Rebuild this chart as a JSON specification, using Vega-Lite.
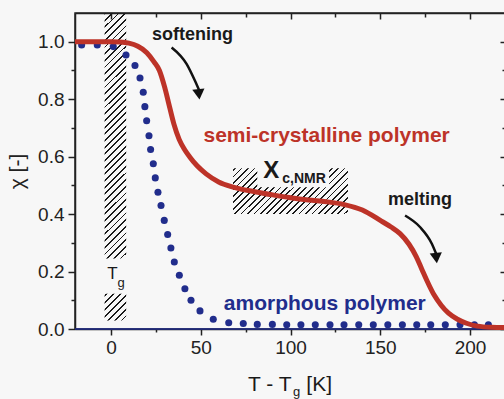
{
"$schema":"https://vega.github.io/schema/vega-lite/v6.json",
"width":431,"height":316,"autosize":"none",
"padding":{"left":75,"top":13,"right":0,"bottom":70},
"background":"#f7f7f7",
"config":{"font":"Liberation Sans","view":{"stroke":"#222","strokeWidth":1.5}},
"resolve":{"axis":{"x":"independent","y":"independent"}},
"layer":[
{"data":{"values":[{"x":-3.5,"x2":8.5,"y":0.03,"y2":0.123}]},
 "mark":{"type":"rect","strokeWidth":0,"fill":{"gradient":"linear","x1":0,"y1":0,"x2":0.8797,"y2":1.0965,"stops":[
{"offset":0.03,"color":"rgba(0,0,0,0)"},{"offset":0.03,"color":"#1a1a1a"},{"offset":0.067,"color":"#1a1a1a"},{"offset":0.067,"color":"rgba(0,0,0,0)"},
{"offset":0.173,"color":"rgba(0,0,0,0)"},{"offset":0.173,"color":"#1a1a1a"},{"offset":0.21,"color":"#1a1a1a"},{"offset":0.21,"color":"rgba(0,0,0,0)"},
{"offset":0.316,"color":"rgba(0,0,0,0)"},{"offset":0.316,"color":"#1a1a1a"},{"offset":0.353,"color":"#1a1a1a"},{"offset":0.353,"color":"rgba(0,0,0,0)"},
{"offset":0.459,"color":"rgba(0,0,0,0)"},{"offset":0.459,"color":"#1a1a1a"},{"offset":0.496,"color":"#1a1a1a"},{"offset":0.496,"color":"rgba(0,0,0,0)"},
{"offset":0.602,"color":"rgba(0,0,0,0)"},{"offset":0.602,"color":"#1a1a1a"},{"offset":0.639,"color":"#1a1a1a"},{"offset":0.639,"color":"rgba(0,0,0,0)"},
{"offset":0.745,"color":"rgba(0,0,0,0)"},{"offset":0.745,"color":"#1a1a1a"},{"offset":0.782,"color":"#1a1a1a"},{"offset":0.782,"color":"rgba(0,0,0,0)"},
{"offset":0.888,"color":"rgba(0,0,0,0)"},{"offset":0.888,"color":"#1a1a1a"},{"offset":0.925,"color":"#1a1a1a"},{"offset":0.925,"color":"rgba(0,0,0,0)"}
]}},
 "encoding":{"x":{"field":"x","type":"quantitative","scale":{"domain":[-20,220],"nice":false,"zero":false},"axis":null},"x2":{"field":"x2"},
  "y":{"field":"y","type":"quantitative","scale":{"domain":[0,1.1],"nice":false,"zero":false},"axis":null},"y2":{"field":"y2"}}},
{"data":{"values":[{"x":-3.5,"x2":8.5,"y":0.245,"y2":1.1}]},
 "mark":{"type":"rect","strokeWidth":0,"fill":{"gradient":"linear","x1":0,"y1":0,"x2":0.0943,"y2":1.0792,"stops":[
{"offset":0,"color":"#1a1a1a"},{"offset":0.007,"color":"#1a1a1a"},{"offset":0.007,"color":"rgba(0,0,0,0)"},
{"offset":0.025,"color":"rgba(0,0,0,0)"},{"offset":0.025,"color":"#1a1a1a"},{"offset":0.032,"color":"#1a1a1a"},{"offset":0.032,"color":"rgba(0,0,0,0)"},
{"offset":0.05,"color":"rgba(0,0,0,0)"},{"offset":0.05,"color":"#1a1a1a"},{"offset":0.057,"color":"#1a1a1a"},{"offset":0.057,"color":"rgba(0,0,0,0)"},
{"offset":0.075,"color":"rgba(0,0,0,0)"},{"offset":0.075,"color":"#1a1a1a"},{"offset":0.082,"color":"#1a1a1a"},{"offset":0.082,"color":"rgba(0,0,0,0)"},
{"offset":0.1,"color":"rgba(0,0,0,0)"},{"offset":0.1,"color":"#1a1a1a"},{"offset":0.107,"color":"#1a1a1a"},{"offset":0.107,"color":"rgba(0,0,0,0)"},
{"offset":0.125,"color":"rgba(0,0,0,0)"},{"offset":0.125,"color":"#1a1a1a"},{"offset":0.132,"color":"#1a1a1a"},{"offset":0.132,"color":"rgba(0,0,0,0)"},
{"offset":0.15,"color":"rgba(0,0,0,0)"},{"offset":0.15,"color":"#1a1a1a"},{"offset":0.157,"color":"#1a1a1a"},{"offset":0.157,"color":"rgba(0,0,0,0)"},
{"offset":0.175,"color":"rgba(0,0,0,0)"},{"offset":0.175,"color":"#1a1a1a"},{"offset":0.182,"color":"#1a1a1a"},{"offset":0.182,"color":"rgba(0,0,0,0)"},
{"offset":0.2,"color":"rgba(0,0,0,0)"},{"offset":0.2,"color":"#1a1a1a"},{"offset":0.207,"color":"#1a1a1a"},{"offset":0.207,"color":"rgba(0,0,0,0)"},
{"offset":0.225,"color":"rgba(0,0,0,0)"},{"offset":0.225,"color":"#1a1a1a"},{"offset":0.232,"color":"#1a1a1a"},{"offset":0.232,"color":"rgba(0,0,0,0)"},
{"offset":0.25,"color":"rgba(0,0,0,0)"},{"offset":0.25,"color":"#1a1a1a"},{"offset":0.257,"color":"#1a1a1a"},{"offset":0.257,"color":"rgba(0,0,0,0)"},
{"offset":0.275,"color":"rgba(0,0,0,0)"},{"offset":0.275,"color":"#1a1a1a"},{"offset":0.282,"color":"#1a1a1a"},{"offset":0.282,"color":"rgba(0,0,0,0)"},
{"offset":0.3,"color":"rgba(0,0,0,0)"},{"offset":0.3,"color":"#1a1a1a"},{"offset":0.307,"color":"#1a1a1a"},{"offset":0.307,"color":"rgba(0,0,0,0)"},
{"offset":0.325,"color":"rgba(0,0,0,0)"},{"offset":0.325,"color":"#1a1a1a"},{"offset":0.332,"color":"#1a1a1a"},{"offset":0.332,"color":"rgba(0,0,0,0)"},
{"offset":0.35,"color":"rgba(0,0,0,0)"},{"offset":0.35,"color":"#1a1a1a"},{"offset":0.357,"color":"#1a1a1a"},{"offset":0.357,"color":"rgba(0,0,0,0)"},
{"offset":0.375,"color":"rgba(0,0,0,0)"},{"offset":0.375,"color":"#1a1a1a"},{"offset":0.382,"color":"#1a1a1a"},{"offset":0.382,"color":"rgba(0,0,0,0)"},
{"offset":0.4,"color":"rgba(0,0,0,0)"},{"offset":0.4,"color":"#1a1a1a"},{"offset":0.407,"color":"#1a1a1a"},{"offset":0.407,"color":"rgba(0,0,0,0)"},
{"offset":0.425,"color":"rgba(0,0,0,0)"},{"offset":0.425,"color":"#1a1a1a"},{"offset":0.432,"color":"#1a1a1a"},{"offset":0.432,"color":"rgba(0,0,0,0)"},
{"offset":0.45,"color":"rgba(0,0,0,0)"},{"offset":0.45,"color":"#1a1a1a"},{"offset":0.457,"color":"#1a1a1a"},{"offset":0.457,"color":"rgba(0,0,0,0)"},
{"offset":0.475,"color":"rgba(0,0,0,0)"},{"offset":0.475,"color":"#1a1a1a"},{"offset":0.482,"color":"#1a1a1a"},{"offset":0.482,"color":"rgba(0,0,0,0)"},
{"offset":0.5,"color":"rgba(0,0,0,0)"},{"offset":0.5,"color":"#1a1a1a"},{"offset":0.507,"color":"#1a1a1a"},{"offset":0.507,"color":"rgba(0,0,0,0)"},
{"offset":0.525,"color":"rgba(0,0,0,0)"},{"offset":0.525,"color":"#1a1a1a"},{"offset":0.532,"color":"#1a1a1a"},{"offset":0.532,"color":"rgba(0,0,0,0)"},
{"offset":0.55,"color":"rgba(0,0,0,0)"},{"offset":0.55,"color":"#1a1a1a"},{"offset":0.557,"color":"#1a1a1a"},{"offset":0.557,"color":"rgba(0,0,0,0)"},
{"offset":0.575,"color":"rgba(0,0,0,0)"},{"offset":0.575,"color":"#1a1a1a"},{"offset":0.582,"color":"#1a1a1a"},{"offset":0.582,"color":"rgba(0,0,0,0)"},
{"offset":0.6,"color":"rgba(0,0,0,0)"},{"offset":0.6,"color":"#1a1a1a"},{"offset":0.607,"color":"#1a1a1a"},{"offset":0.607,"color":"rgba(0,0,0,0)"},
{"offset":0.625,"color":"rgba(0,0,0,0)"},{"offset":0.625,"color":"#1a1a1a"},{"offset":0.632,"color":"#1a1a1a"},{"offset":0.632,"color":"rgba(0,0,0,0)"},
{"offset":0.65,"color":"rgba(0,0,0,0)"},{"offset":0.65,"color":"#1a1a1a"},{"offset":0.657,"color":"#1a1a1a"},{"offset":0.657,"color":"rgba(0,0,0,0)"},
{"offset":0.675,"color":"rgba(0,0,0,0)"},{"offset":0.675,"color":"#1a1a1a"},{"offset":0.682,"color":"#1a1a1a"},{"offset":0.682,"color":"rgba(0,0,0,0)"},
{"offset":0.7,"color":"rgba(0,0,0,0)"},{"offset":0.7,"color":"#1a1a1a"},{"offset":0.707,"color":"#1a1a1a"},{"offset":0.707,"color":"rgba(0,0,0,0)"},
{"offset":0.725,"color":"rgba(0,0,0,0)"},{"offset":0.725,"color":"#1a1a1a"},{"offset":0.732,"color":"#1a1a1a"},{"offset":0.732,"color":"rgba(0,0,0,0)"},
{"offset":0.75,"color":"rgba(0,0,0,0)"},{"offset":0.75,"color":"#1a1a1a"},{"offset":0.757,"color":"#1a1a1a"},{"offset":0.757,"color":"rgba(0,0,0,0)"},
{"offset":0.775,"color":"rgba(0,0,0,0)"},{"offset":0.775,"color":"#1a1a1a"},{"offset":0.782,"color":"#1a1a1a"},{"offset":0.782,"color":"rgba(0,0,0,0)"},
{"offset":0.8,"color":"rgba(0,0,0,0)"},{"offset":0.8,"color":"#1a1a1a"},{"offset":0.807,"color":"#1a1a1a"},{"offset":0.807,"color":"rgba(0,0,0,0)"},
{"offset":0.825,"color":"rgba(0,0,0,0)"},{"offset":0.825,"color":"#1a1a1a"},{"offset":0.832,"color":"#1a1a1a"},{"offset":0.832,"color":"rgba(0,0,0,0)"},
{"offset":0.85,"color":"rgba(0,0,0,0)"},{"offset":0.85,"color":"#1a1a1a"},{"offset":0.857,"color":"#1a1a1a"},{"offset":0.857,"color":"rgba(0,0,0,0)"},
{"offset":0.875,"color":"rgba(0,0,0,0)"},{"offset":0.875,"color":"#1a1a1a"},{"offset":0.882,"color":"#1a1a1a"},{"offset":0.882,"color":"rgba(0,0,0,0)"},
{"offset":0.9,"color":"rgba(0,0,0,0)"},{"offset":0.9,"color":"#1a1a1a"},{"offset":0.907,"color":"#1a1a1a"},{"offset":0.907,"color":"rgba(0,0,0,0)"},
{"offset":0.925,"color":"rgba(0,0,0,0)"},{"offset":0.925,"color":"#1a1a1a"},{"offset":0.932,"color":"#1a1a1a"},{"offset":0.932,"color":"rgba(0,0,0,0)"},
{"offset":0.95,"color":"rgba(0,0,0,0)"},{"offset":0.95,"color":"#1a1a1a"},{"offset":0.957,"color":"#1a1a1a"},{"offset":0.957,"color":"rgba(0,0,0,0)"},
{"offset":0.975,"color":"rgba(0,0,0,0)"},{"offset":0.975,"color":"#1a1a1a"},{"offset":0.982,"color":"#1a1a1a"},{"offset":0.982,"color":"rgba(0,0,0,0)"}
]}},
 "encoding":{"x":{"field":"x","type":"quantitative","scale":{"domain":[-20,220],"nice":false,"zero":false},"axis":null},"x2":{"field":"x2"},
  "y":{"field":"y","type":"quantitative","scale":{"domain":[0,1.1],"nice":false,"zero":false},"axis":null},"y2":{"field":"y2"}}},
{"data":{"values":[{"x":68,"x2":132,"y":0.4,"y2":0.56}]},
 "mark":{"type":"rect","strokeWidth":0,"fill":{"gradient":"linear","x1":0,"y1":0,"x2":1.2069,"y2":0.4832,"stops":[
{"offset":0.01,"color":"rgba(0,0,0,0)"},{"offset":0.01,"color":"#1a1a1a"},{"offset":0.021,"color":"#1a1a1a"},{"offset":0.021,"color":"rgba(0,0,0,0)"},
{"offset":0.05,"color":"rgba(0,0,0,0)"},{"offset":0.05,"color":"#1a1a1a"},{"offset":0.061,"color":"#1a1a1a"},{"offset":0.061,"color":"rgba(0,0,0,0)"},
{"offset":0.09,"color":"rgba(0,0,0,0)"},{"offset":0.09,"color":"#1a1a1a"},{"offset":0.101,"color":"#1a1a1a"},{"offset":0.101,"color":"rgba(0,0,0,0)"},
{"offset":0.13,"color":"rgba(0,0,0,0)"},{"offset":0.13,"color":"#1a1a1a"},{"offset":0.141,"color":"#1a1a1a"},{"offset":0.141,"color":"rgba(0,0,0,0)"},
{"offset":0.17,"color":"rgba(0,0,0,0)"},{"offset":0.17,"color":"#1a1a1a"},{"offset":0.181,"color":"#1a1a1a"},{"offset":0.181,"color":"rgba(0,0,0,0)"},
{"offset":0.21,"color":"rgba(0,0,0,0)"},{"offset":0.21,"color":"#1a1a1a"},{"offset":0.221,"color":"#1a1a1a"},{"offset":0.221,"color":"rgba(0,0,0,0)"},
{"offset":0.25,"color":"rgba(0,0,0,0)"},{"offset":0.25,"color":"#1a1a1a"},{"offset":0.261,"color":"#1a1a1a"},{"offset":0.261,"color":"rgba(0,0,0,0)"},
{"offset":0.29,"color":"rgba(0,0,0,0)"},{"offset":0.29,"color":"#1a1a1a"},{"offset":0.301,"color":"#1a1a1a"},{"offset":0.301,"color":"rgba(0,0,0,0)"},
{"offset":0.33,"color":"rgba(0,0,0,0)"},{"offset":0.33,"color":"#1a1a1a"},{"offset":0.341,"color":"#1a1a1a"},{"offset":0.341,"color":"rgba(0,0,0,0)"},
{"offset":0.37,"color":"rgba(0,0,0,0)"},{"offset":0.37,"color":"#1a1a1a"},{"offset":0.381,"color":"#1a1a1a"},{"offset":0.381,"color":"rgba(0,0,0,0)"},
{"offset":0.41,"color":"rgba(0,0,0,0)"},{"offset":0.41,"color":"#1a1a1a"},{"offset":0.421,"color":"#1a1a1a"},{"offset":0.421,"color":"rgba(0,0,0,0)"},
{"offset":0.45,"color":"rgba(0,0,0,0)"},{"offset":0.45,"color":"#1a1a1a"},{"offset":0.461,"color":"#1a1a1a"},{"offset":0.461,"color":"rgba(0,0,0,0)"},
{"offset":0.49,"color":"rgba(0,0,0,0)"},{"offset":0.49,"color":"#1a1a1a"},{"offset":0.501,"color":"#1a1a1a"},{"offset":0.501,"color":"rgba(0,0,0,0)"},
{"offset":0.53,"color":"rgba(0,0,0,0)"},{"offset":0.53,"color":"#1a1a1a"},{"offset":0.541,"color":"#1a1a1a"},{"offset":0.541,"color":"rgba(0,0,0,0)"},
{"offset":0.57,"color":"rgba(0,0,0,0)"},{"offset":0.57,"color":"#1a1a1a"},{"offset":0.581,"color":"#1a1a1a"},{"offset":0.581,"color":"rgba(0,0,0,0)"},
{"offset":0.61,"color":"rgba(0,0,0,0)"},{"offset":0.61,"color":"#1a1a1a"},{"offset":0.621,"color":"#1a1a1a"},{"offset":0.621,"color":"rgba(0,0,0,0)"},
{"offset":0.65,"color":"rgba(0,0,0,0)"},{"offset":0.65,"color":"#1a1a1a"},{"offset":0.661,"color":"#1a1a1a"},{"offset":0.661,"color":"rgba(0,0,0,0)"},
{"offset":0.69,"color":"rgba(0,0,0,0)"},{"offset":0.69,"color":"#1a1a1a"},{"offset":0.701,"color":"#1a1a1a"},{"offset":0.701,"color":"rgba(0,0,0,0)"},
{"offset":0.73,"color":"rgba(0,0,0,0)"},{"offset":0.73,"color":"#1a1a1a"},{"offset":0.741,"color":"#1a1a1a"},{"offset":0.741,"color":"rgba(0,0,0,0)"},
{"offset":0.77,"color":"rgba(0,0,0,0)"},{"offset":0.77,"color":"#1a1a1a"},{"offset":0.781,"color":"#1a1a1a"},{"offset":0.781,"color":"rgba(0,0,0,0)"},
{"offset":0.81,"color":"rgba(0,0,0,0)"},{"offset":0.81,"color":"#1a1a1a"},{"offset":0.821,"color":"#1a1a1a"},{"offset":0.821,"color":"rgba(0,0,0,0)"},
{"offset":0.85,"color":"rgba(0,0,0,0)"},{"offset":0.85,"color":"#1a1a1a"},{"offset":0.861,"color":"#1a1a1a"},{"offset":0.861,"color":"rgba(0,0,0,0)"},
{"offset":0.89,"color":"rgba(0,0,0,0)"},{"offset":0.89,"color":"#1a1a1a"},{"offset":0.901,"color":"#1a1a1a"},{"offset":0.901,"color":"rgba(0,0,0,0)"},
{"offset":0.93,"color":"rgba(0,0,0,0)"},{"offset":0.93,"color":"#1a1a1a"},{"offset":0.941,"color":"#1a1a1a"},{"offset":0.941,"color":"rgba(0,0,0,0)"},
{"offset":0.97,"color":"rgba(0,0,0,0)"},{"offset":0.97,"color":"#1a1a1a"},{"offset":0.981,"color":"#1a1a1a"},{"offset":0.981,"color":"rgba(0,0,0,0)"}
]}},
 "encoding":{"x":{"field":"x","type":"quantitative","scale":{"domain":[-20,220],"nice":false,"zero":false},"axis":null},"x2":{"field":"x2"},
  "y":{"field":"y","type":"quantitative","scale":{"domain":[0,1.1],"nice":false,"zero":false},"axis":null},"y2":{"field":"y2"}}},
{"data":{"values":[{"x":81.5,"x2":121.5,"y":0.493,"y2":0.575}]},
 "mark":{"type":"rect","fill":"#f7f7f7","strokeWidth":0},
 "encoding":{"x":{"field":"x","type":"quantitative","scale":{"domain":[-20,220],"nice":false,"zero":false},"axis":null},"x2":{"field":"x2"},
  "y":{"field":"y","type":"quantitative","scale":{"domain":[0,1.1],"nice":false,"zero":false},"axis":null},"y2":{"field":"y2"}}},
{"data":{"values":[{"y":0}]},
 "mark":{"type":"rule","color":"#212d8c","strokeWidth":1.5},
 "encoding":{"y":{"field":"y","type":"quantitative","scale":{"domain":[0,1.1],"nice":false,"zero":false},"axis":null}}},
{"data":{"values":[{"x":-16.3,"y":0.989},{"x":-7.6,"y":0.989},{"x":1.3,"y":0.983},{"x":8.4,"y":0.954},{"x":13.4,"y":0.917},{"x":16.2,"y":0.874},{"x":18.0,"y":0.824},{"x":18.9,"y":0.774},{"x":19.9,"y":0.725},{"x":21.2,"y":0.673},{"x":22.1,"y":0.625},{"x":23.6,"y":0.575},{"x":24.7,"y":0.526},{"x":26.2,"y":0.476},{"x":27.9,"y":0.43},{"x":29.7,"y":0.378},{"x":31.6,"y":0.329},{"x":33.4,"y":0.282},{"x":35.3,"y":0.233},{"x":38.1,"y":0.187},{"x":41.2,"y":0.14},{"x":44.6,"y":0.1},{"x":49.6,"y":0.063},{"x":57.0,"y":0.034},{"x":65.6,"y":0.022},{"x":73.7,"y":0.019},{"x":81.5,"y":0.016},{"x":89.9,"y":0.016},{"x":97.9,"y":0.015},{"x":105.8,"y":0.015},{"x":113.8,"y":0.015},{"x":122.0,"y":0.015},{"x":129.8,"y":0.015},{"x":138.0,"y":0.015},{"x":146.1,"y":0.015},{"x":154.2,"y":0.015},{"x":162.3,"y":0.015},{"x":170.3,"y":0.015},{"x":178.1,"y":0.015},{"x":186.2,"y":0.015},{"x":194.4,"y":0.015},{"x":202.4,"y":0.015},{"x":210.2,"y":0.015}]},
 "mark":{"type":"point","filled":true,"size":50,"color":"#212d8c","opacity":1},
 "encoding":{"x":{"field":"x","type":"quantitative","scale":{"domain":[-20,220],"nice":false,"zero":false},
   "axis":{"orient":"top","values":[0,25,50,75,100,125,150,175,200],"labels":false,"title":null,"grid":false,"domainColor":"#222","domainWidth":1.5,"tickColor":"#222","tickWidth":1.5,"tickSize":{"condition":{"test":"datum.value % 50 === 0","value":-6},"value":-4}}},
  "y":{"field":"y","type":"quantitative","scale":{"domain":[0,1.1],"nice":false,"zero":false},
   "axis":{"orient":"right","values":[0,0.1,0.2,0.3,0.4,0.5,0.6,0.7,0.8,0.9,1.0],"labels":false,"title":null,"grid":false,"domainColor":"#222","domainWidth":1.5,"tickColor":"#222","tickWidth":1.5,"tickSize":{"condition":{"test":"round(datum.value*10) % 2 === 0","value":-6},"value":-4}}}}},
{"data":{"values":[{"x":-20,"y":1.0},{"x":-10,"y":1.0},{"x":0,"y":1.0},{"x":5,"y":0.999},{"x":10,"y":0.995},{"x":15,"y":0.984},{"x":20,"y":0.962},{"x":24,"y":0.93},{"x":27,"y":0.9},{"x":30,"y":0.84},{"x":32,"y":0.79},{"x":35,"y":0.715},{"x":38,"y":0.66},{"x":41,"y":0.625},{"x":44,"y":0.598},{"x":48,"y":0.568},{"x":53,"y":0.54},{"x":60,"y":0.512},{"x":68,"y":0.494},{"x":80,"y":0.478},{"x":90,"y":0.467},{"x":100,"y":0.457},{"x":110,"y":0.449},{"x":120,"y":0.443},{"x":130,"y":0.433},{"x":140,"y":0.414},{"x":150,"y":0.378},{"x":156,"y":0.355},{"x":161,"y":0.332},{"x":166,"y":0.295},{"x":170,"y":0.252},{"x":173,"y":0.21},{"x":176,"y":0.168},{"x":180,"y":0.118},{"x":184,"y":0.082},{"x":188,"y":0.055},{"x":193,"y":0.034},{"x":198,"y":0.02},{"x":204,"y":0.01},{"x":212,"y":0.006},{"x":220,"y":0.005}]},
 "mark":{"type":"line","color":"#bd3328","strokeWidth":5,"interpolate":"monotone"},
 "encoding":{"x":{"field":"x","type":"quantitative","scale":{"domain":[-20,220],"nice":false,"zero":false},
   "axis":{"orient":"bottom","values":[0,25,50,75,100,125,150,175,200],"labelExpr":"datum.value % 50 === 0 ? datum.label : ''","format":"d","title":null,"grid":false,"domainColor":"#222","domainWidth":1.5,"tickColor":"#222","tickWidth":1.5,"tickSize":{"condition":{"test":"datum.value % 50 === 0","value":6},"value":3},"labelFontSize":19,"labelColor":"#222","labelPadding":3,"labelFlush":false,"labelOverlap":false}},
  "y":{"field":"y","type":"quantitative","scale":{"domain":[0,1.1],"nice":false,"zero":false},
   "axis":{"orient":"left","values":[0,0.1,0.2,0.3,0.4,0.5,0.6,0.7,0.8,0.9,1.0],"labelExpr":"round(datum.value*10) % 2 === 0 ? format(datum.value, '.1f') : ''","title":"χ [-]","titleFontSize":21,"titleFontWeight":"normal","titleColor":"#222","titlePadding":10,"grid":false,"domainColor":"#222","domainWidth":1.5,"tickColor":"#222","tickWidth":1.5,"tickSize":{"condition":{"test":"round(datum.value*10) % 2 === 0","value":7},"value":4},"labelFontSize":19,"labelColor":"#222","labelPadding":4,"labelFlush":false,"labelOverlap":false}}}},
{"data":{"values":[{"id":"a","x":33.8,"y":0.98},{"id":"a","x":42.2,"y":0.922},{"id":"a","x":46.8,"y":0.864},{"id":"a","x":49.2,"y":0.83},{"id":"b","x":163.8,"y":0.395},{"id":"b","x":172.1,"y":0.355},{"id":"b","x":178.7,"y":0.297},{"id":"b","x":181.1,"y":0.262}]},
 "mark":{"type":"line","color":"#111","strokeWidth":2.5,"interpolate":"monotone"},
 "encoding":{"x":{"field":"x","type":"quantitative","scale":{"domain":[-20,220],"nice":false,"zero":false},"axis":null},
  "y":{"field":"y","type":"quantitative","scale":{"domain":[0,1.1],"nice":false,"zero":false},"axis":null},
  "detail":{"field":"id"}}},
{"data":{"values":[{"x":49.0,"y":0.817},{"x":181.2,"y":0.247}]},
 "mark":{"type":"point","shape":"triangle-down","filled":true,"size":150,"color":"#111","opacity":1,"angle":-6},
 "encoding":{"x":{"field":"x","type":"quantitative","scale":{"domain":[-20,220],"nice":false,"zero":false},"axis":null},
  "y":{"field":"y","type":"quantitative","scale":{"domain":[0,1.1],"nice":false,"zero":false},"axis":null}}},
{"data":{"values":[{"x":45.4,"y":1.0045,"t":"softening"},{"x":172.1,"y":0.43,"t":"melting"}]},
 "mark":{"type":"text","fontSize":18,"fontWeight":"bold","color":"#1a1a1a","align":"center","baseline":"alphabetic"},
 "encoding":{"x":{"field":"x","type":"quantitative","scale":{"domain":[-20,220],"nice":false,"zero":false},"axis":null},
  "y":{"field":"y","type":"quantitative","scale":{"domain":[0,1.1],"nice":false,"zero":false},"axis":null},"text":{"field":"t"}}},
{"data":{"values":[{"x":120.1,"y":0.651,"t":"semi-crystalline polymer"}]},
 "mark":{"type":"text","fontSize":21,"fontWeight":"bold","color":"#bd3328","align":"center","baseline":"alphabetic"},
 "encoding":{"x":{"field":"x","type":"quantitative","scale":{"domain":[-20,220],"nice":false,"zero":false},"axis":null},
  "y":{"field":"y","type":"quantitative","scale":{"domain":[0,1.1],"nice":false,"zero":false},"axis":null},"text":{"field":"t"}}},
{"data":{"values":[{"x":119.1,"y":0.067,"t":"amorphous polymer"}]},
 "mark":{"type":"text","fontSize":21,"fontWeight":"bold","color":"#212d8c","align":"center","baseline":"alphabetic"},
 "encoding":{"x":{"field":"x","type":"quantitative","scale":{"domain":[-20,220],"nice":false,"zero":false},"axis":null},
  "y":{"field":"y","type":"quantitative","scale":{"domain":[0,1.1],"nice":false,"zero":false},"axis":null},"text":{"field":"t"}}},
{"data":{"values":[{"x":84.8,"y":0.525,"t":"X"}]},
 "mark":{"type":"text","fontSize":24,"fontWeight":"bold","color":"#1a1a1a","align":"left","baseline":"alphabetic"},
 "encoding":{"x":{"field":"x","type":"quantitative","scale":{"domain":[-20,220],"nice":false,"zero":false},"axis":null},
  "y":{"field":"y","type":"quantitative","scale":{"domain":[0,1.1],"nice":false,"zero":false},"axis":null},"text":{"field":"t"}}},
{"data":{"values":[{"x":95.4,"y":0.507,"t":"c,NMR"}]},
 "mark":{"type":"text","fontSize":14,"fontWeight":"bold","color":"#1a1a1a","align":"left","baseline":"alphabetic"},
 "encoding":{"x":{"field":"x","type":"quantitative","scale":{"domain":[-20,220],"nice":false,"zero":false},"axis":null},
  "y":{"field":"y","type":"quantitative","scale":{"domain":[0,1.1],"nice":false,"zero":false},"axis":null},"text":{"field":"t"}}},
{"data":{"values":[{"x":0.8,"y":0.175,"t":"T"}]},
 "mark":{"type":"text","fontSize":17,"color":"#1a1a1a","align":"center","baseline":"alphabetic"},
 "encoding":{"x":{"field":"x","type":"quantitative","scale":{"domain":[-20,220],"nice":false,"zero":false},"axis":null},
  "y":{"field":"y","type":"quantitative","scale":{"domain":[0,1.1],"nice":false,"zero":false},"axis":null},"text":{"field":"t"}}},
{"data":{"values":[{"x":3.7,"y":0.145,"t":"g"},{"x":101.4,"y":-0.232,"t":"g"}]},
 "mark":{"type":"text","fontSize":13,"color":"#1a1a1a","align":"left","baseline":"alphabetic"},
 "encoding":{"x":{"field":"x","type":"quantitative","scale":{"domain":[-20,220],"nice":false,"zero":false},"axis":null},
  "y":{"field":"y","type":"quantitative","scale":{"domain":[0,1.1],"nice":false,"zero":false},"axis":null},"text":{"field":"t"}}},
{"data":{"values":[{"x":76.3,"y":-0.217,"t":"T - T"},{"x":108.8,"y":-0.217,"t":"[K]"}]},
 "mark":{"type":"text","fontSize":21,"color":"#1a1a1a","align":"left","baseline":"alphabetic"},
 "encoding":{"x":{"field":"x","type":"quantitative","scale":{"domain":[-20,220],"nice":false,"zero":false},"axis":null},
  "y":{"field":"y","type":"quantitative","scale":{"domain":[0,1.1],"nice":false,"zero":false},"axis":null},"text":{"field":"t"}}}
]
}
